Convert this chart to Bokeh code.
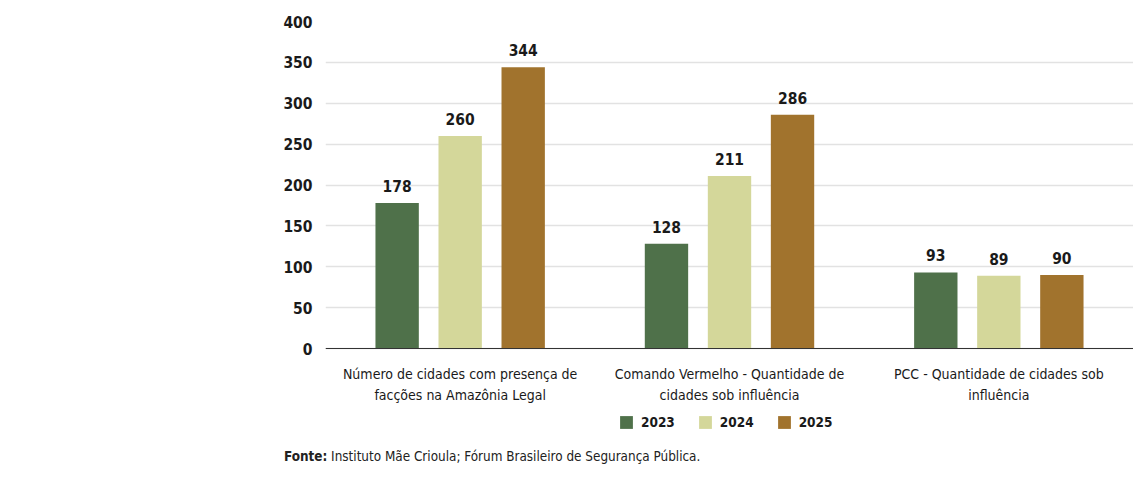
from bokeh.plotting import figure
from bokeh.models import (ColumnDataSource, FactorRange, Legend, LegendItem, FixedTicker, Div, Range1d)
from bokeh.layouts import column
from bokeh.transform import dodge
from bokeh.core.properties import value
from bokeh.embed import file_html
from bokeh.resources import INLINE

categories = [
    "Número de cidades com presença de\nfacções na Amazônia Legal",
    "Comando Vermelho - Quantidade de\ncidades sob influência",
    "PCC - Quantidade de cidades sob\ninfluência",
]
years = ["2023", "2024", "2025"]
v2023 = [178, 128, 93]
v2024 = [260, 211, 89]
v2025 = [344, 286, 90]
y_ticks = [0, 50, 100, 150, 200, 250, 300, 350, 400]
source_note_bold = "Fonte:"
source_note = "Instituto Mãe Crioula; Fórum Brasileiro de Segurança Pública."

colors = ["#4f714a", "#d4d79a", "#a1732d"]
FONT = "'Liberation Sans Narrow', 'DejaVu Sans Condensed', 'Roboto Condensed', Roboto"

# layout geometry (pixels)
TOP = 21          # y of the 400 line
ZERO = 348        # y of the zero line
BOTTOM = 440      # bottom of the frame (frame extends below zero for labels/legend)
px_per_unit = (ZERO - TOP) / 400.0
y_start = -(BOTTOM - ZERO) / px_per_unit

src = ColumnDataSource(dict(
    cat=categories, v2023=v2023, v2024=v2024, v2025=v2025,
    l2023=[str(v) for v in v2023], l2024=[str(v) for v in v2024], l2025=[str(v) for v in v2025],
))

p = figure(frame_width=808, frame_height=BOTTOM - TOP,
           x_range=FactorRange(factors=categories, range_padding=0),
           y_range=Range1d(y_start, 400), output_backend="svg", toolbar_location=None,
           min_border_left=325, min_border_right=0, min_border_top=TOP, min_border_bottom=0)
p.outline_line_color = None

offsets = [-0.234, 0.0, 0.234]
renderers = []
for yr, off, col in zip(years, offsets, colors):
    r = p.vbar(x=dodge("cat", off, range=p.x_range), top="v" + yr, width=0.161,
               source=src, fill_color=col, line_color=None)
    renderers.append(r)
    p.text(x=dodge("cat", off, range=p.x_range), y="v" + yr, text="l" + yr, source=src,
           y_offset=-11, text_align="center", text_baseline="bottom",
           text_font=value(FONT), text_font_style="bold", text_font_size="15.5px",
           text_color="#1a1a1a")

# axes
p.yaxis.ticker = FixedTicker(ticks=y_ticks)
p.yaxis.axis_line_color = None
p.yaxis.major_tick_line_color = None
p.yaxis.minor_tick_line_color = None
p.yaxis.major_tick_out = 0
p.yaxis.major_label_standoff = 13
p.yaxis.major_label_text_font = FONT
p.yaxis.major_label_text_font_style = "bold"
p.yaxis.major_label_text_font_size = "15.5px"
p.yaxis.major_label_text_color = "#1a1a1a"

p.xaxis.fixed_location = 0
p.xaxis.axis_line_color = "#333333"
p.xaxis.axis_line_width = 1.2
p.xaxis.major_tick_line_color = None
p.xaxis.minor_tick_line_color = None
p.xaxis.major_tick_out = 0
p.xaxis.major_label_standoff = 17
p.xaxis.major_label_text_font = FONT
p.xaxis.major_label_text_font_size = "14px"
p.xaxis.major_label_text_color = "#1a1a1a"
p.xaxis.major_label_text_line_height = 1.35

p.xgrid.grid_line_color = None
p.ygrid.grid_line_color = "#e2e2e2"
p.ygrid.grid_line_width = 1.5

legend = Legend(items=[LegendItem(label=yr, renderers=[r]) for yr, r in zip(years, renderers)],
                orientation="horizontal", location=(293, BOTTOM - 430),
                glyph_width=16, glyph_height=16, label_standoff=7, spacing=22,
                label_text_font=FONT, label_text_font_style="bold",
                label_text_font_size="13.5px", label_text_color="#1a1a1a",
                border_line_color=None, background_fill_alpha=0,
                padding=0, margin=0)
p.add_layout(legend, "center")

note = Div(text=f"<b>{source_note_bold}</b> {source_note}", width=900,
           styles={"font-family": FONT, "font-size": "13.4px", "color": "#222222",
                   "margin-left": "284px", "margin-top": "7px"})

layout = column(p, note, spacing=0)
open("out.html", "w").write(file_html(layout, INLINE))
